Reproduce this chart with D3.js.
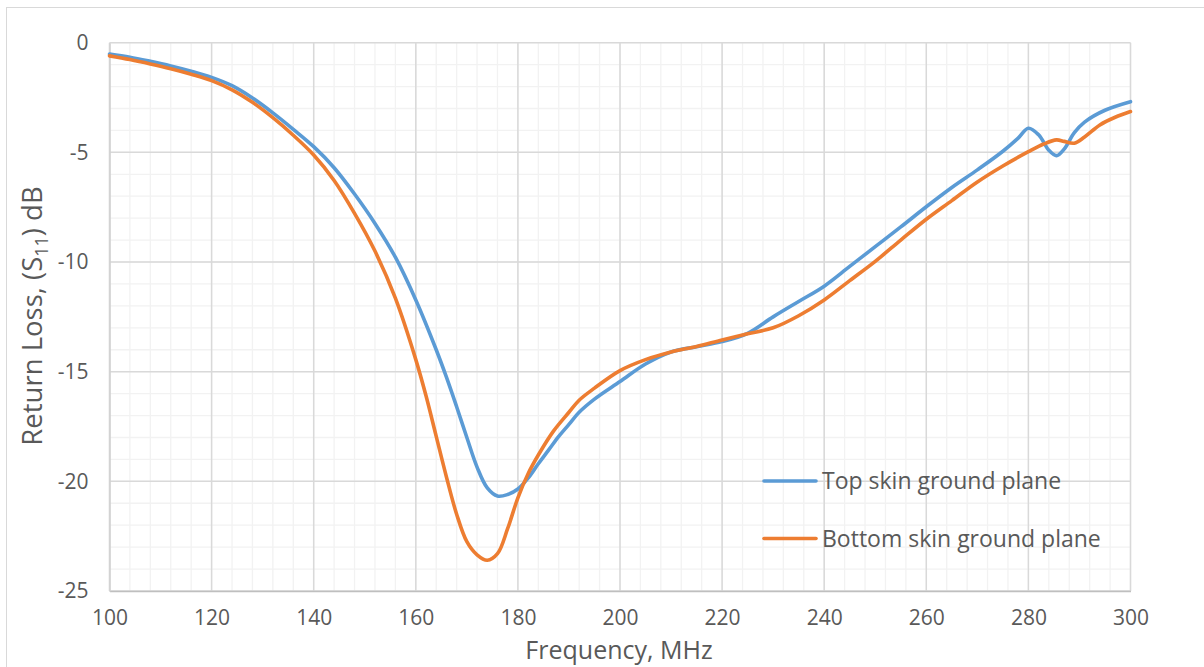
<!DOCTYPE html>
<html>
<head>
<meta charset="utf-8">
<script src="https://cdn.jsdelivr.net/npm/d3@7/dist/d3.min.js"></script>
<style>
  html, body { margin: 0; padding: 0; background: #ffffff; }
  svg { display: block; }
  text { font-family: "Open Sans", Lato, sans-serif; fill: #595959; }
</style>
</head>
<body>
<svg id="chart" width="1204" height="667"></svg>
<script>
// Return loss (S11, dB) versus frequency (MHz) for two ground plane placements
const topFreq = [100, 104, 108, 112, 116, 120, 124, 128, 132, 136, 140, 144, 148, 152, 156, 160,
  164, 166, 168, 170, 172, 174, 176, 178, 180, 182, 184, 186, 188, 190, 192, 195, 200, 205,
  210, 215, 220, 225, 230, 235, 240, 245, 250, 255, 260, 265, 270, 275, 278, 280, 282, 284,
  285.5, 287, 289, 291, 295, 300];
const topDb = [-0.52, -0.66, -0.85, -1.06, -1.3, -1.58, -1.96, -2.52, -3.2, -3.95, -4.74, -5.7,
  -6.9, -8.24, -9.78, -11.73, -14.0, -15.25, -16.6, -18.0, -19.35, -20.3, -20.67, -20.6,
  -20.35, -19.85, -19.2, -18.58, -17.95, -17.4, -16.85, -16.25, -15.45, -14.65, -14.1,
  -13.86, -13.63, -13.25, -12.5, -11.8, -11.1, -10.2, -9.3, -8.4, -7.48, -6.6, -5.8, -4.95,
  -4.35, -3.9, -4.2, -4.9, -5.15, -4.85, -4.1, -3.62, -3.08, -2.69];

const bottomFreq = [100, 104, 108, 112, 116, 120, 124, 128, 132, 136, 140, 144, 148, 152, 156,
  160, 162, 164, 166, 168, 170, 172, 174, 176, 178, 180, 182, 184, 187, 190, 192, 195, 200, 205,
  210, 215, 220, 225, 230, 235, 240, 245, 250, 255, 260, 265, 270, 275, 280, 283, 285.5, 287,
  289, 291, 294, 297, 300];
const bottomDb = [-0.6, -0.77, -0.97, -1.19, -1.44, -1.73, -2.15, -2.72, -3.42, -4.22, -5.12,
  -6.28, -7.78, -9.5, -11.65, -14.45, -16.1, -17.95, -19.8, -21.5, -22.75, -23.35, -23.6,
  -23.3, -22.15, -20.75, -19.65, -18.8, -17.7, -16.85, -16.3, -15.75, -14.95, -14.45, -14.1,
  -13.85, -13.55, -13.27, -13.0, -12.45, -11.73, -10.85, -9.97, -9.0, -8.05, -7.2, -6.35,
  -5.62, -4.97, -4.62, -4.43, -4.5, -4.58, -4.3, -3.75, -3.4, -3.14];

const xTicks = [100, 120, 140, 160, 180, 200, 220, 240, 260, 280, 300];
const yTicks = [0, -5, -10, -15, -20, -25];
const seriesNames = ["Top skin ground plane", "Bottom skin ground plane"];
const seriesColors = ["#5B9BD5", "#ED7D31"];

const svg = d3.select("#chart");

// chart frame
svg.append("rect")
  .attr("x", 6.5).attr("y", 7.5)
  .attr("width", 1300).attr("height", 700)
  .attr("fill", "none").attr("stroke", "#D9D9D9").attr("stroke-width", 1);

const x = d3.scaleLinear().domain([100, 300]).range([109.5, 1130.5]);
const y = d3.scaleLinear().domain([-25, 0]).range([591, 42.7]);

const grid = svg.append("g");

// minor gridlines
grid.selectAll("line.vminor").data(d3.range(100, 301, 4)).join("line")
  .attr("x1", d => x(d)).attr("x2", d => x(d))
  .attr("y1", y(0)).attr("y2", y(-25))
  .attr("stroke", "#F2F2F2").attr("stroke-width", 1.3);
grid.selectAll("line.hminor").data(d3.range(-25, 1, 1)).join("line")
  .attr("x1", x(100)).attr("x2", x(300))
  .attr("y1", d => y(d)).attr("y2", d => y(d))
  .attr("stroke", "#F2F2F2").attr("stroke-width", 1.3);

// major gridlines
grid.selectAll("line.vmajor").data(xTicks).join("line")
  .attr("x1", d => x(d)).attr("x2", d => x(d))
  .attr("y1", y(0)).attr("y2", y(-25))
  .attr("stroke", "#D9D9D9").attr("stroke-width", 1.5);
grid.selectAll("line.hmajor").data(yTicks).join("line")
  .attr("x1", x(100)).attr("x2", x(300))
  .attr("y1", d => y(d)).attr("y2", d => y(d))
  .attr("stroke", "#D9D9D9").attr("stroke-width", 1.5);

// axes built from the scales, then restyled (plain hyphen for negatives)
const plain = d => String(d);

const xAxis = svg.append("g").attr("transform", `translate(0,${y(-25)})`)
  .call(d3.axisBottom(x).tickValues(xTicks).tickFormat(plain).tickSize(0).tickPadding(19));
xAxis.select(".domain").attr("stroke", "#BFBFBF").attr("stroke-width", 1.5);
xAxis.selectAll("text").attr("font-size", 21).attr("fill", "#595959")
  .style("font-family", "'Open Sans', sans-serif");

const yAxis = svg.append("g").attr("transform", `translate(${x(100)},0)`)
  .call(d3.axisLeft(y).tickValues(yTicks).tickFormat(plain).tickSize(0).tickPadding(21));
yAxis.select(".domain").attr("stroke", "#D0D0D0").attr("stroke-width", 1.5);
yAxis.selectAll("text").attr("font-size", 21).attr("fill", "#595959")
  .style("font-family", "'Open Sans', sans-serif");

// series
const line = d3.line()
  .x(d => x(d[0]))
  .y(d => y(d[1]))
  .curve(d3.curveCatmullRom.alpha(0.5));

const series = [
  d3.zip(topFreq, topDb),
  d3.zip(bottomFreq, bottomDb)
];

svg.append("g").selectAll("path").data(series).join("path")
  .attr("d", line)
  .attr("fill", "none")
  .attr("stroke", (d, i) => seriesColors[i])
  .attr("stroke-width", 3.6)
  .attr("stroke-linejoin", "round")
  .attr("stroke-linecap", "round");

// legend
const legend = svg.append("g");
const legendY = [481, 538.5];
seriesNames.forEach((name, i) => {
  legend.append("line")
    .attr("x1", 764).attr("x2", 816)
    .attr("y1", legendY[i]).attr("y2", legendY[i])
    .attr("stroke", seriesColors[i]).attr("stroke-width", 3.6)
    .attr("stroke-linecap", "round");
  legend.append("text")
    .attr("x", 822).attr("y", legendY[i])
    .attr("dy", "0.36em")
    .attr("font-size", 23)
    .text(name);
});

// axis titles
svg.append("text")
  .attr("x", 619).attr("y", 659)
  .attr("text-anchor", "middle")
  .attr("font-size", 25)
  .text("Frequency, MHz");

const yTitle = svg.append("text")
  .attr("transform", "translate(42,316) rotate(-90)")
  .attr("text-anchor", "middle")
  .attr("font-size", 27.5);
yTitle.append("tspan").text("Return Loss, (S");
yTitle.append("tspan").attr("font-size", 18).attr("dy", 6).text("11");
yTitle.append("tspan").attr("dy", -6).text(") dB");
</script>
</body>
</html>
